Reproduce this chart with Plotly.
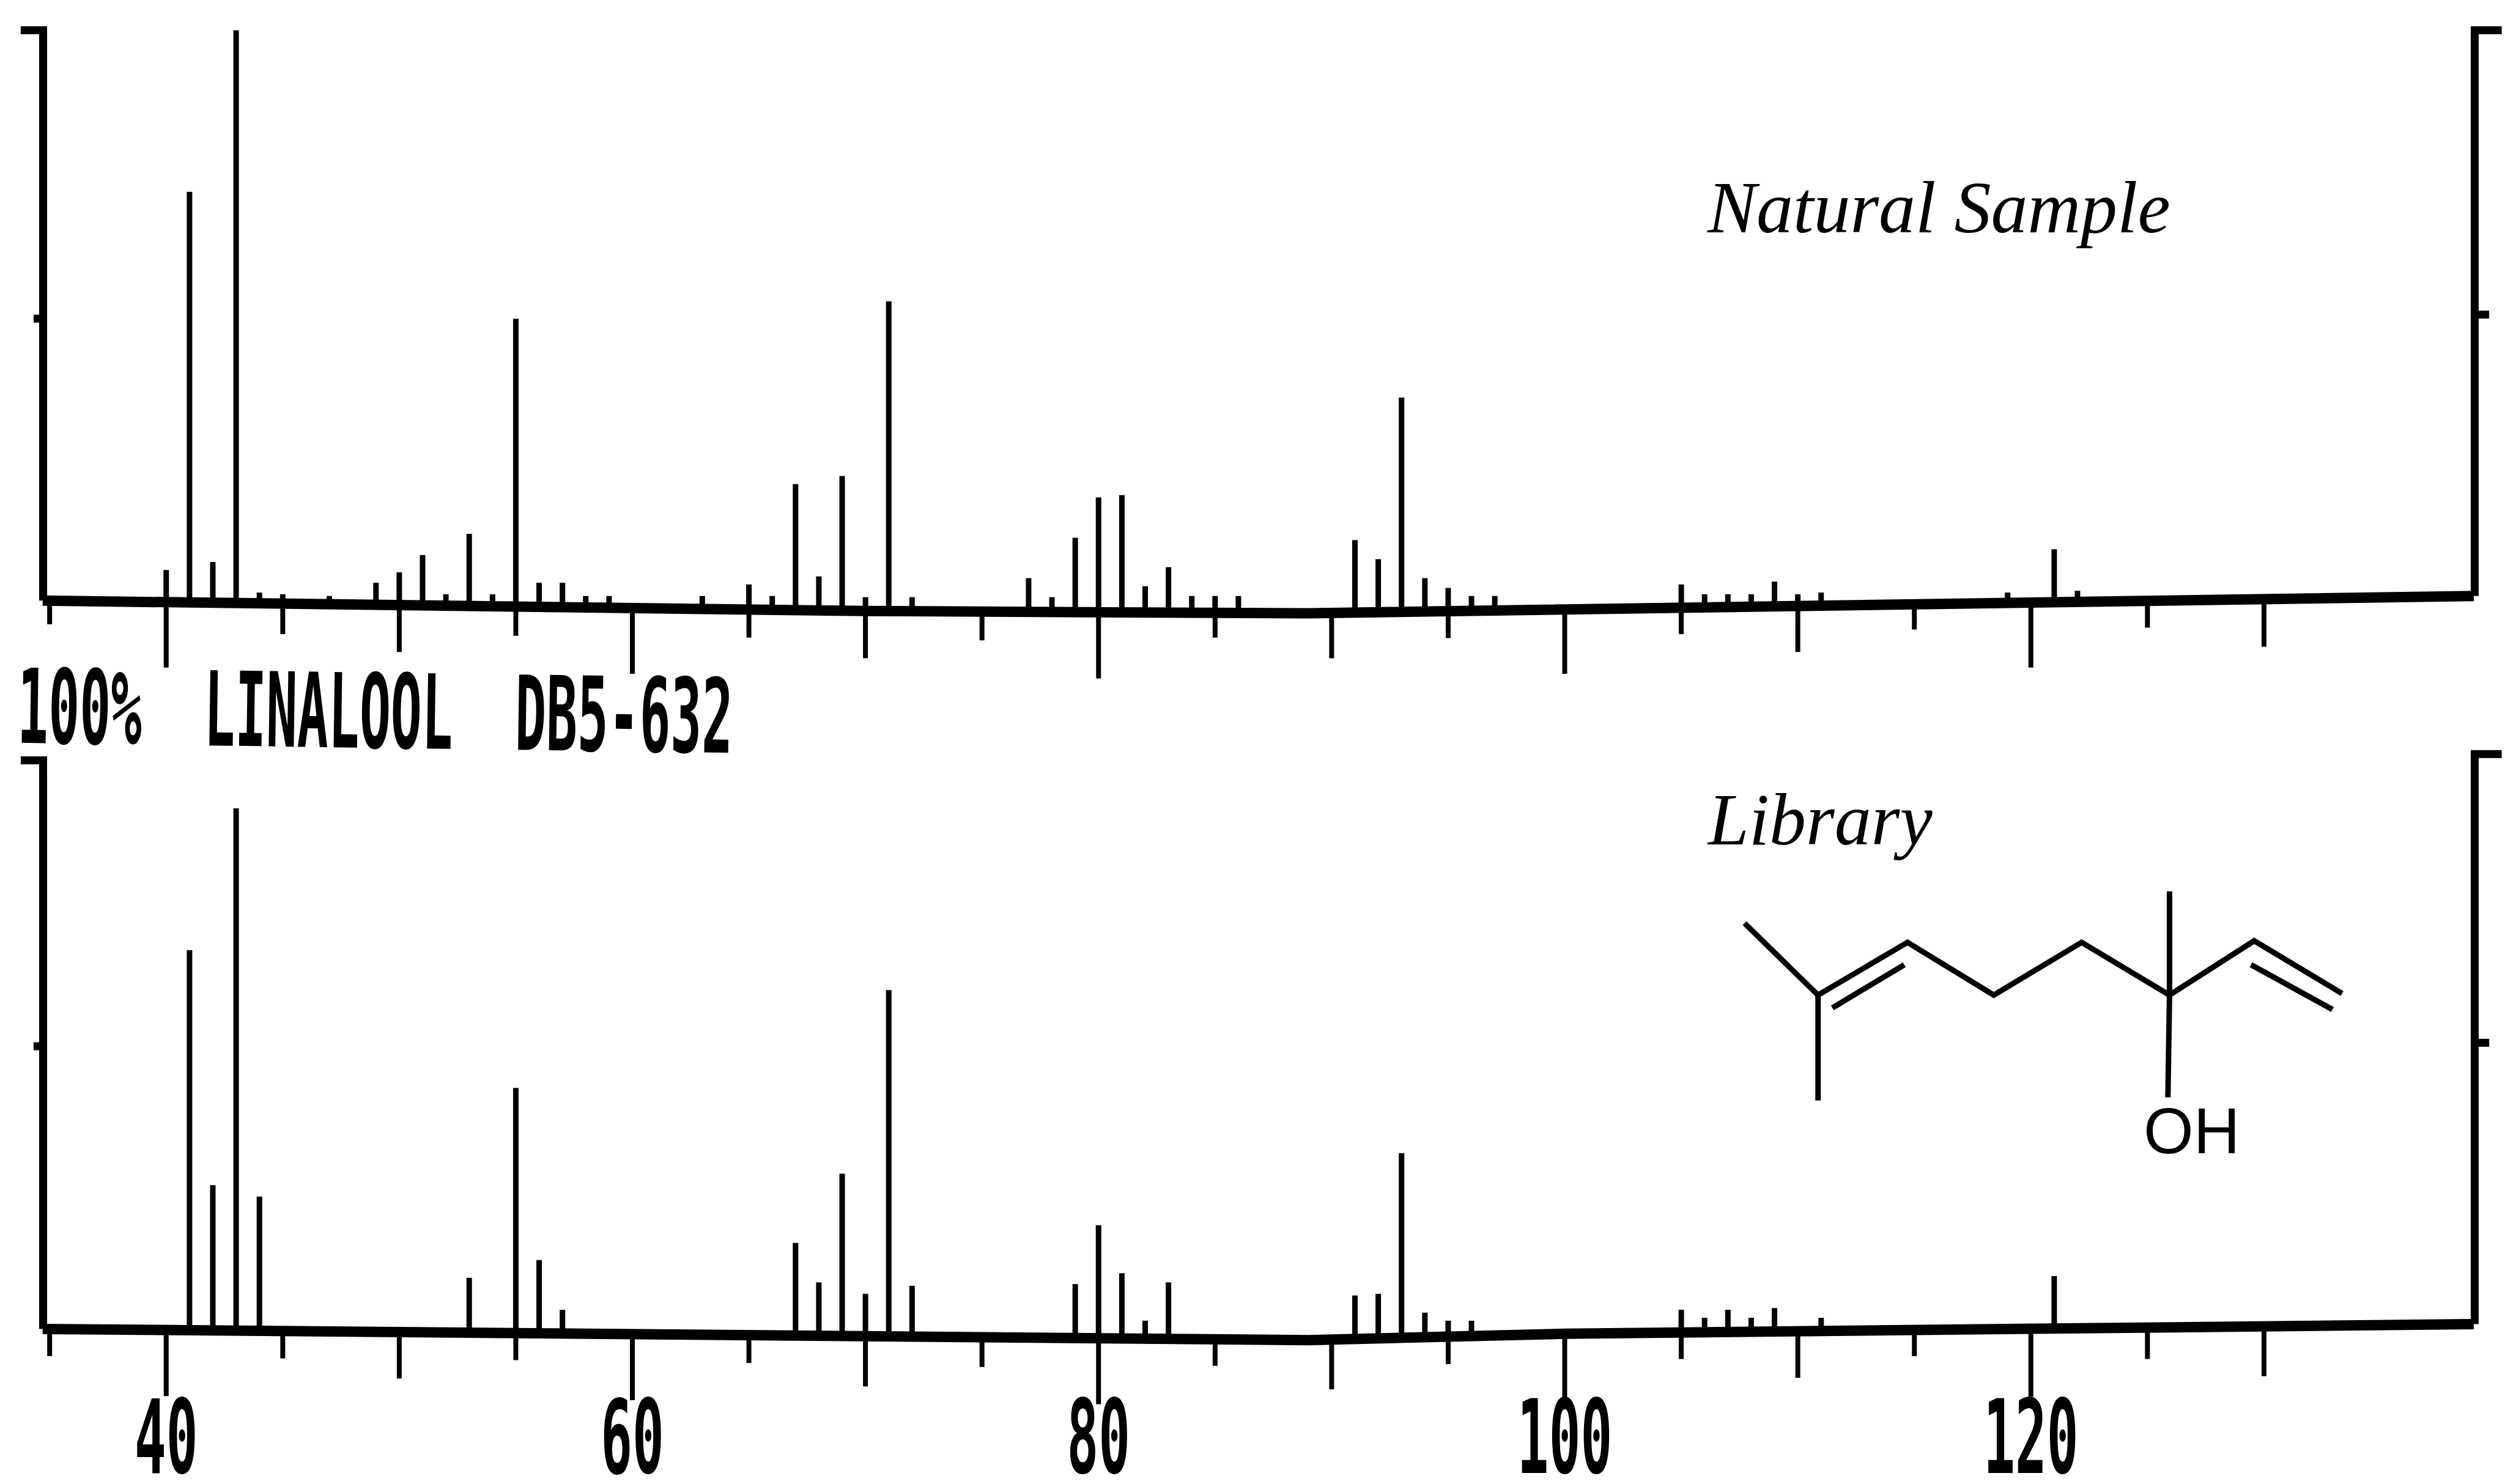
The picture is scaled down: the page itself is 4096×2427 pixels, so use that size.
import numpy as np
import plotly.graph_objects as go

# ---- Data (m/z, relative intensity %) ----
natural_mz = [40,41,42,43,44,45,47,49,50,51,52,53,54,55,56,57,58,59,63,65,66,67,68,69,70,71,72,77,78,79,80,81,82,83,84,85,86,91,92,93,94,95,96,97,105,106,107,108,109,110,111,119,121,122]
natural_int = [6.4,72,7.8,100,2.5,2.2,1.9,4.2,6,9,2.2,12.7,2.2,50,4.2,4.2,1.9,1.9,1.9,3.9,1.9,21.3,5.3,22.7,1.7,53,1.7,5,1.7,12,19,19.4,3.6,6.9,1.9,1.9,1.9,11.6,8.3,36.3,5,3.3,1.9,1.9,3.9,2.2,2.2,2.2,4.4,2.2,2.5,2.5,10,2.8]
library_mz = [41,42,43,44,53,55,56,57,67,68,69,70,71,72,79,80,81,82,83,91,92,93,94,95,96,105,106,107,108,109,111,121]
library_int = [66.8,25.7,91.6,23.7,9.5,42.7,12.6,3.9,15.6,8.7,27.7,6.7,59.8,8.1,8.4,18.7,10.3,2,8.7,6.4,6.7,31.3,3.4,2,2,3.9,2.5,3.9,2.5,4.2,2.5,9.8]

tick_mz = [35,40,45,50,55,60,65,70,75,80,85,90,95,100,105,110,115,120,125,130]
top_tick_depth = [-3,-10.5,-4.7,-7.8,-5,-11.6,-5.3,-8.9,-5.8,-12.4,-5.3,-8.9,-5.4,-11.6,-4.7,-7.8,-3.9,-10.5,-3.6,-6.9]
low_tick_depth = [-4.2,-11.2,-4.6,-8.1,-4.9,-11.9,-5.4,-9.5,-6.1,-12.6,-5.9,-10,-5.6,-11.9,-4.7,-8,-4.2,-11.3,-4.7,-7.7]

base_mz = [34.7,60,70,89,100,120,139]
top_base = [1.1,-0.3,-0.7,-1.1,-0.4,0.55,1.9]
low_base = [0.55,-0.28,-0.6,-1.4,-0.28,0.55,1.4]

label_vals = [40,60,80,100,120]
label_text = ["40","60","80","100","120"]
header = "100%  LINALOOL  DB5-632"
top_title = "Natural Sample"
low_title = "Library"
structure_label = "OH"

# skeletal formula, in 1568x929 picture units
bonds = [
    [(1092,578),(1138,623),(1194,590),(1248,623),(1303,590),(1358,623),(1411,589),(1466,622)],
    [(1147,631),(1192,604)],
    [(1409,604),(1460,632)],
    [(1138,623),(1138,689)],
    [(1358,558),(1358,623),(1357,687)],
]

W, H = 4096, 2427
BOTTOM = 882.0
def px(x): return x / 1568.0
def py(y): return 1 - y / BOTTOM

def segments(mz, vals, base):
    start = np.interp(mz, base_mz, base)
    xs, ys = [], []
    for m, v, s in zip(mz, vals, start):
        xs += [m, m, None]
        ys += [float(s), v, None]
    return xs, ys

fig = go.Figure()
BLACK = "#000000"

def panel(xa, ya, mz, vals, depth, base, left_top, right_top, right_mid):
    sx, sy = segments(mz, vals, base)
    fig.add_trace(go.Scatter(x=sx, y=sy, mode="lines", line=dict(color=BLACK, width=9), xaxis=xa, yaxis=ya, hoverinfo="skip"))
    tx, ty = segments(tick_mz, depth, base)
    fig.add_trace(go.Scatter(x=tx, y=ty, mode="lines", line=dict(color=BLACK, width=8), xaxis=xa, yaxis=ya, hoverinfo="skip"))
    fig.add_trace(go.Scatter(x=base_mz, y=base, mode="lines", line=dict(color=BLACK, width=17), xaxis=xa, yaxis=ya, hoverinfo="skip"))
    fx = [33.76, 34.72, 34.72, None, 34.31, 34.72, None, 139.04, 139.04, 140.2, None, 139.04, 139.66]
    fy = [left_top, left_top, base[0], None, 50, 50, None, base[-1], right_top, right_top, None, right_mid, right_mid]
    fig.add_trace(go.Scatter(x=fx, y=fy, mode="lines", line=dict(color=BLACK, width=13), xaxis=xa, yaxis=ya, hoverinfo="skip"))

panel("x", "y", natural_mz, natural_int, top_tick_depth, top_base, 100, 100, 50.7)
panel("x2", "y2", library_mz, library_int, low_tick_depth, low_base, 100, 101.1, 50.6)

xrange_ = [32.87, 140.34]
off = dict(showgrid=False, zeroline=False, showline=False, ticks="", automargin=False)
fig.update_layout(
    width=W, height=H, autosize=False, showlegend=False,
    paper_bgcolor="white", plot_bgcolor="white",
    margin=dict(l=0, r=0, t=0, b=H * (929 - BOTTOM) / 929),
    xaxis=dict(domain=[0, 1], range=xrange_, showticklabels=False, anchor="y", **off),
    yaxis=dict(domain=[1 - 430 / BOTTOM, 1], range=[-13.85, 105.26], showticklabels=False, anchor="x", **off),
    xaxis2=dict(domain=[0, 1], range=xrange_, anchor="y2", tickmode="array", tickvals=label_vals, ticktext=label_text,
                ticklabelstandoff=18,
                tickfont=dict(family="DejaVu Sans Mono", size=86, color=BLACK, weight="bold"), **off),
    yaxis2=dict(domain=[0, 1 - 430 / BOTTOM], range=[-13.41, 112.85], showticklabels=False, anchor="x2", **off),
)

for chain in bonds:
    path = "M " + " L ".join(f"{px(x):.5f},{py(y):.5f}" for x, y in chain)
    fig.add_shape(type="path", path=path, xref="paper", yref="paper", line=dict(color=BLACK, width=9))

def note(text, x, y, family, size, italic=False, weight="normal", xanchor="left", angle=0):
    fig.add_annotation(text=text, xref="paper", yref="paper", x=px(x), y=py(y), xanchor=xanchor, yanchor="middle",
                       showarrow=False, borderpad=0, textangle=angle,
                       font=dict(family=family, size=size, color=BLACK, style="italic" if italic else "normal", weight=weight))

note(top_title, 1068, 130, "Liberation Serif", 120, italic=True)
note(low_title, 1068, 513, "Liberation Serif", 120, italic=True)
note(structure_label, 1372, 708, "Liberation Sans", 105, xanchor="center")
note(header, 10, 457, "DejaVu Sans Mono", 84.5, weight="bold", angle=0.8)

post = """
document.body.style.margin = '0';
(function(){
  function stretch(){
    document.querySelectorAll('text').forEach(function(t){
      if(t.dataset.stretched) return;
      if(!(t.style.fontFamily||'').includes('DejaVu Sans Mono')) return;
      var s = t.classList.contains('annotation-text') ? 2.0 : 1.95;
      var y = parseFloat(t.getAttribute('y')) || 0;
      var old = t.getAttribute('transform') || '';
      t.setAttribute('transform', old + ' translate(0,' + y + ') scale(1,' + s + ') translate(0,' + (-y) + ')');
      t.dataset.stretched = '1';
    });
  }
  setTimeout(stretch, 50); setTimeout(stretch, 400);
})();
"""
fig.write_html("out.html", post_script=post, config=dict(displayModeBar=False))
